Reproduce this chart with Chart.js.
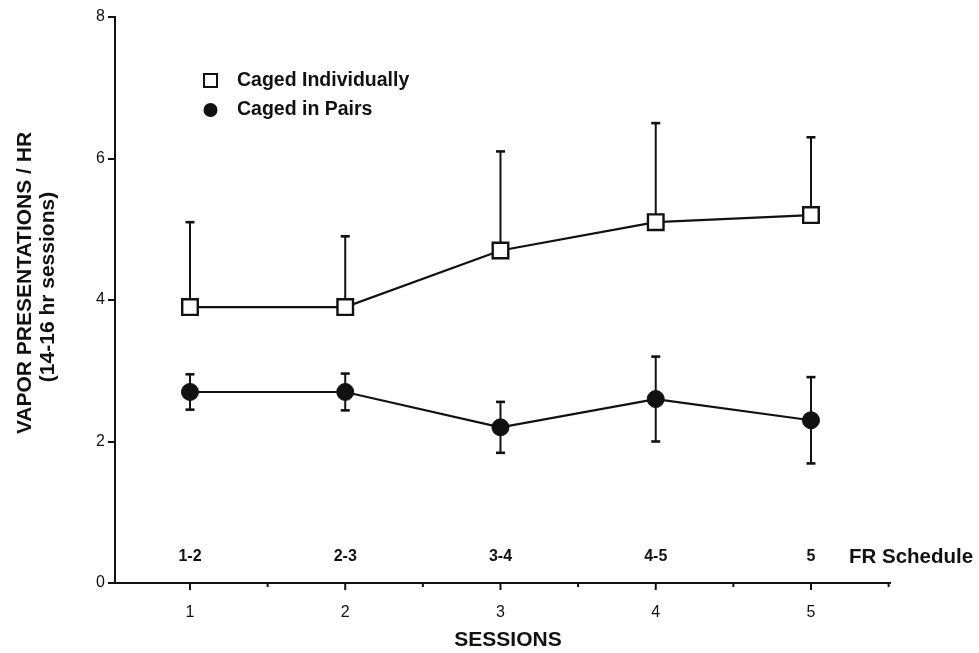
<!DOCTYPE html>
<html><head><meta charset="utf-8">
<script src="https://cdn.jsdelivr.net/npm/chart.js@4/dist/chart.umd.min.js"></script>
<style>html,body{margin:0;padding:0;background:#fff;}#wrap{width:979px;height:653px;position:relative;}</style>
</head><body><div id="wrap"><canvas id="c" width="979" height="653"></canvas></div>
<script>
const sessions = [1, 2, 3, 4, 5];
const frSchedule = ['1-2', '2-3', '3-4', '4-5', '5'];
const cagedIndividually = [3.9, 3.9, 4.7, 5.1, 5.2];
const cagedIndividuallyErr = [1.2, 1.0, 1.4, 1.4, 1.1];
const cagedPairs = [2.7, 2.7, 2.2, 2.6, 2.3];
const cagedPairsErr = [0.25, 0.26, 0.36, 0.6, 0.61];
const yTicks = [0, 2, 4, 6, 8];
const xTicks = [1, 1.5, 2, 2.5, 3, 3.5, 4, 4.5, 5, 5.5];

const FONT = '"Liberation Sans", Arial, Helvetica, sans-serif';
const INK = '#111';

const errPlugin = {
  id: 'errbars',
  beforeDatasetsDraw(chart) {
    const ctx = chart.ctx, xs = chart.scales.x, ys = chart.scales.y;
    ctx.save();
    ctx.strokeStyle = INK;
    ctx.lineWidth = 2;
    const cap = 4.5;
    function bar(x, y0, y1) {
      const px = xs.getPixelForValue(x);
      const p0 = ys.getPixelForValue(y0), p1 = ys.getPixelForValue(y1);
      ctx.beginPath(); ctx.moveTo(px, p0); ctx.lineTo(px, p1); ctx.stroke();
      ctx.lineWidth = 2.6;
      ctx.beginPath(); ctx.moveTo(px - cap, p1); ctx.lineTo(px + cap, p1); ctx.stroke();
      ctx.lineWidth = 2;
    }
    sessions.forEach((s, i) => {
      bar(s, cagedIndividually[i], cagedIndividually[i] + cagedIndividuallyErr[i]);
      bar(s, cagedPairs[i], cagedPairs[i] + cagedPairsErr[i]);
      bar(s, cagedPairs[i], cagedPairs[i] - cagedPairsErr[i]);
    });
    ctx.restore();
  },
  afterDraw(chart) {
    const ctx = chart.ctx, xs = chart.scales.x;
    const bottom = chart.chartArea.bottom;
    ctx.save();
    ctx.strokeStyle = INK; ctx.fillStyle = INK;
    // x-axis tick marks
    xTicks.forEach(v => {
      const px = xs.getPixelForValue(v);
      const major = Number.isInteger(v);
      ctx.lineWidth = 2;
      ctx.beginPath(); ctx.moveTo(px, bottom); ctx.lineTo(px, bottom + (major ? 7 : 4)); ctx.stroke();
    });
    // FR schedule labels
    ctx.font = 'bold 16px ' + FONT;
    ctx.textAlign = 'center'; ctx.textBaseline = 'middle';
    sessions.forEach((s, i) => {
      ctx.fillText(frSchedule[i], xs.getPixelForValue(s), 557);
    });
    ctx.font = 'bold 20.5px ' + FONT;
    ctx.textAlign = 'left';
    ctx.fillText('FR Schedule', 849, 557);
    // x title
    ctx.font = 'bold 21px ' + FONT;
    ctx.textAlign = 'center';
    ctx.fillText('SESSIONS', 508, 640);
    // y title
    ctx.save();
    ctx.translate(25, 283);
    ctx.rotate(-Math.PI / 2);
    ctx.font = 'bold 21px ' + FONT;
    ctx.fillText('VAPOR PRESENTATIONS / HR', 0, 0);
    ctx.restore();
    ctx.save();
    ctx.translate(48, 287);
    ctx.rotate(-Math.PI / 2);
    ctx.font = 'bold 21px ' + FONT;
    ctx.fillText('(14-16 hr sessions)', 0, 0);
    ctx.restore();
    // legend
    const ds = chart.data.datasets;
    ctx.lineWidth = 2;
    ctx.fillStyle = '#fff';
    ctx.fillRect(204, 74, 13, 13);
    ctx.strokeRect(204, 74, 13, 13);
    ctx.fillStyle = INK;
    ctx.beginPath(); ctx.arc(210.5, 110, 7, 0, Math.PI * 2); ctx.fill();
    ctx.font = 'bold 19.5px ' + FONT;
    ctx.textAlign = 'left';
    ctx.fillText(ds[0].label, 237, 81);
    ctx.fillText(ds[1].label, 237, 110);
    ctx.restore();
  }
};

new Chart(document.getElementById('c'), {
  type: 'line',
  data: {
    datasets: [
      {
        label: 'Caged Individually',
        data: sessions.map((s, i) => ({ x: s, y: cagedIndividually[i] })),
        borderColor: INK, borderWidth: 2.2,
        pointStyle: 'rect', pointRadius: 11,
        pointBackgroundColor: '#fff', pointBorderColor: INK, pointBorderWidth: 2.4,
        tension: 0
      },
      {
        label: 'Caged in Pairs',
        data: sessions.map((s, i) => ({ x: s, y: cagedPairs[i] })),
        borderColor: INK, borderWidth: 2.2,
        pointStyle: 'circle', pointRadius: 8.5,
        pointBackgroundColor: INK, pointBorderColor: INK, pointBorderWidth: 1,
        tension: 0
      }
    ]
  },
  options: {
    responsive: false, animation: false, devicePixelRatio: 1,
    layout: { padding: { left: 0, top: 17, right: 89, bottom: 0 } },
    plugins: { legend: { display: false }, tooltip: { enabled: false } },
    scales: {
      x: {
        type: 'linear', min: 0.517, max: 5.509,
        afterBuildTicks: s => { s.ticks = xTicks.map(v => ({ value: v })); },
        afterFit: s => { s.height = 70; },
        ticks: {
          autoSkip: false, maxRotation: 0, padding: 12, color: INK,
          font: { family: FONT, size: 16 },
          callback: v => Number.isInteger(v) ? String(v) : ''
        },
        grid: { display: false },
        border: { display: true, color: INK, width: 2 }
      },
      y: {
        min: 0, max: 8,
        afterBuildTicks: s => { s.ticks = yTicks.map(v => ({ value: v })); },
        afterFit: s => { s.width = 115; },
        ticks: { color: INK, padding: 3, font: { family: FONT, size: 16 } },
        grid: { display: true, drawOnChartArea: false, drawTicks: true, tickLength: 7, color: INK, lineWidth: 2 },
        border: { display: true, color: INK, width: 2 }
      }
    }
  },
  plugins: [errPlugin]
});
</script></body></html>
